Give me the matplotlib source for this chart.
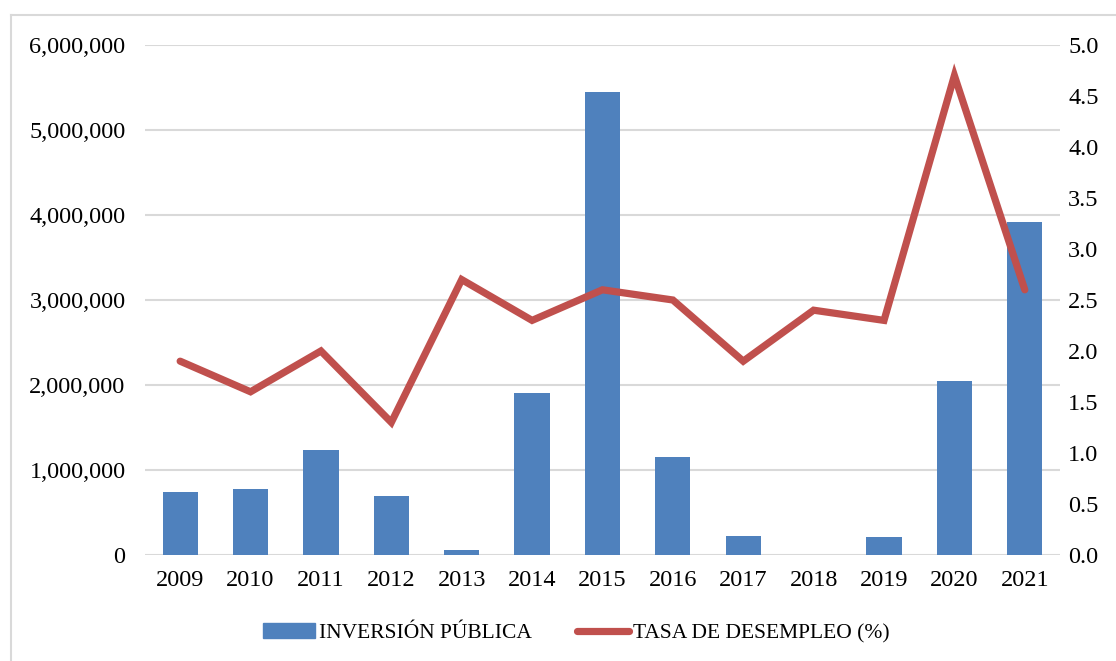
import numpy as np
import matplotlib.pyplot as plt
from matplotlib.lines import Line2D
from matplotlib.patches import Patch
from matplotlib.ticker import FuncFormatter

plt.rcParams['font.family'] = ['Liberation Serif', 'DejaVu Serif']

years = ['2009', '2010', '2011', '2012', '2013', '2014', '2015',
         '2016', '2017', '2018', '2019', '2020', '2021']
inversion = [741000, 778000, 1235000, 694000, 60000, 1906000, 5447000,
             1153000, 224000, 0, 212000, 2047000, 3918000]
desempleo = [1.9, 1.6, 2.0, 1.3, 2.7, 2.3, 2.6, 2.5, 1.9, 2.4, 2.3, 4.7, 2.6]

bar_color = '#4F81BD'
line_color = '#C0504D'
grid_color = '#D9D9D9'

fig = plt.figure(figsize=(11.16, 6.61), dpi=100)
ax = fig.add_axes([0.1299, 0.1604, 0.8199, 0.7715])
ax2 = ax.twinx()

x = np.arange(len(years))
ax.bar(x, inversion, width=0.5, color=bar_color, zorder=2)
ax2.plot(x, desempleo, color=line_color, lw=5.2, solid_capstyle='round',
         solid_joinstyle='miter', zorder=3)

ax.set_xlim(-0.5, len(years) - 0.5)
ax.set_ylim(0, 6000000)
ax.set_yticks(np.arange(0, 6000001, 1000000))
ax.yaxis.set_major_formatter(FuncFormatter(lambda v, p: f'{int(v):,}'))
ax2.set_ylim(0, 5.0)
ax2.set_yticks(np.arange(0, 5.01, 0.5))
ax2.yaxis.set_major_formatter(FuncFormatter(lambda v, p: f'{v:.1f}'))

ax.set_xticks(x)
ax.set_xticklabels(years)

ax.grid(axis='y', color=grid_color, lw=1.5, zorder=0)
ax.set_axisbelow(True)
for a in (ax, ax2):
    for s in a.spines.values():
        s.set_visible(False)
ax.tick_params(axis='y', length=0, pad=14, labelsize=17.5)
ax.tick_params(axis='x', length=0, pad=11, labelsize=17.5)
ax2.tick_params(axis='y', length=0, pad=6, labelsize=17.5)

# outer chart frame (only left and top edges visible)
fig.add_artist(Line2D([11 / 1116, 11 / 1116], [0, 1 - 15 / 661],
                      transform=fig.transFigure, color=grid_color, lw=1.5))
fig.add_artist(Line2D([11 / 1116, 1], [1 - 15 / 661, 1 - 15 / 661],
                      transform=fig.transFigure, color=grid_color, lw=1.5))

handles = [Patch(color=bar_color), Line2D([0], [0], color=line_color, lw=5.2,
                                          solid_capstyle='round')]
fig.legend(handles, ['INVERSIÓN PÚBLICA', 'TASA DE DESEMPLEO (%)'],
           loc='center', bbox_to_anchor=(0.5166, 0.042), ncol=2, frameon=False,
           fontsize=15.5, handlelength=2.4, handletextpad=0.2,
           columnspacing=2.1)

fig.savefig('out.png', dpi=100)
